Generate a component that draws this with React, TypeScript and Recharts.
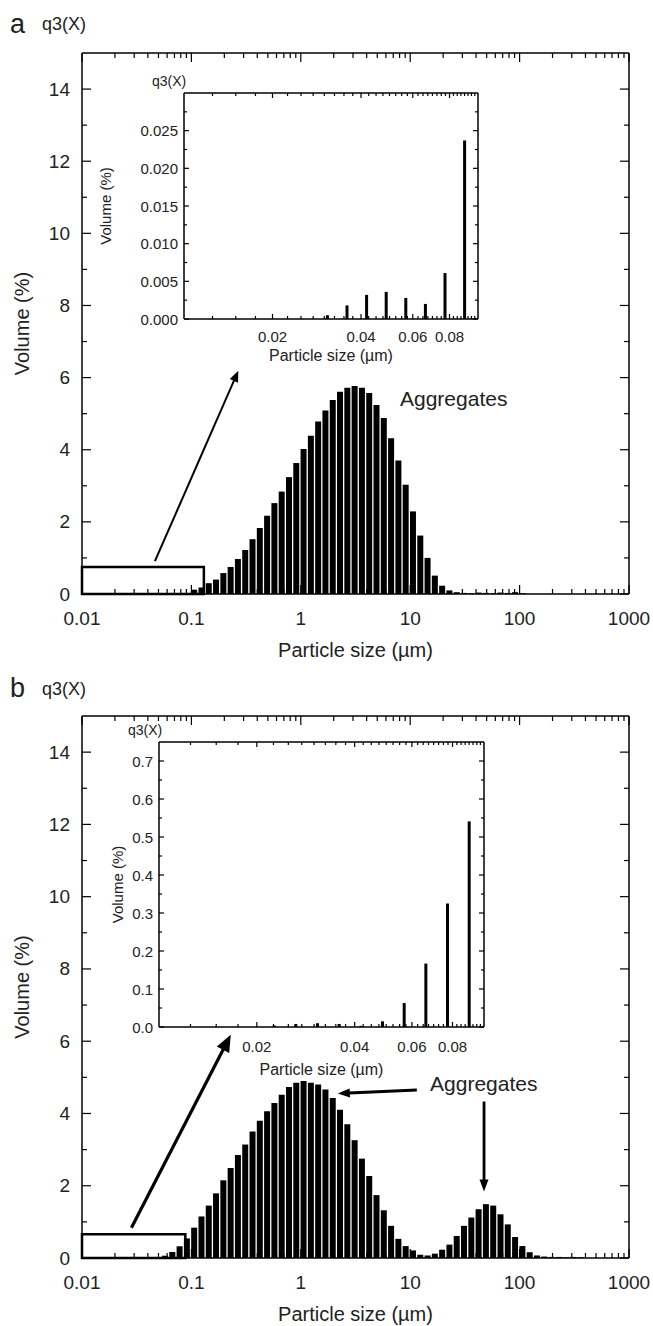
import React from 'react'
import { ComposedChart, Bar, XAxis, YAxis, ReferenceArea, ReferenceLine, ReferenceDot } from 'recharts'

const FONT = '"Liberation Sans", Arial, Helvetica, sans-serif'
const INK = '#222'

// size classes (um), about 15 per decade
const sizeClasses = [
  0.01052, 0.01227, 0.0143, 0.01667, 0.01944, 0.02266, 0.02642, 0.03081, 0.03592, 0.04188, 0.04883, 0.05693, 0.06638, 0.07739, 0.09023,
  0.1052, 0.1227, 0.143, 0.1667, 0.1944, 0.2266, 0.2642, 0.3081, 0.3592, 0.4188, 0.4883, 0.5693, 0.6638, 0.7739, 0.9023,
  1.052, 1.227, 1.43, 1.667, 1.944, 2.266, 2.642, 3.081, 3.592, 4.188, 4.883, 5.693, 6.638, 7.739, 9.023,
  10.52, 12.27, 14.3, 16.67, 19.44, 22.66, 26.42, 30.81, 35.92, 41.88, 48.83, 56.93, 66.38, 77.39, 90.23,
  105.2, 122.7, 143, 166.7, 194.4, 226.6, 264.2, 308.1, 359.2, 418.8, 488.3, 569.3, 663.8, 773.9, 902.3,
]

// panel a, volume (%)
const volumeA = [
  0, 0, 0, 0, 0, 0, 0, 0.0005, 0.0018, 0.0032, 0.0036, 0.0028, 0.002, 0.0061, 0.0237,
  0.12, 0.18, 0.3, 0.4, 0.58, 0.75, 0.97, 1.22, 1.52, 1.83, 2.17, 2.52, 2.84, 3.24, 3.63,
  4.02, 4.39, 4.78, 5.09, 5.38, 5.61, 5.72, 5.77, 5.72, 5.57, 5.24, 4.88, 4.32, 3.7, 3.03,
  2.29, 1.62, 1.0, 0.51, 0.23, 0.1, 0.05, 0.03, 0.02, 0.04, 0.03, 0.02, 0.04, 0.03, 0.05,
  0.02, 0, 0, 0, 0, 0, 0, 0, 0, 0, 0, 0, 0, 0, 0,
]

// panel b, volume (%)
const volumeB = [
  0, 0, 0, 0, 0, 0.004, 0.008, 0.01, 0.008, 0.003, 0.015, 0.063, 0.167, 0.325, 0.541,
  0.84, 1.15, 1.45, 1.79, 2.15, 2.49, 2.85, 3.14, 3.5, 3.8, 4.06, 4.29, 4.52, 4.73, 4.85,
  4.9, 4.85, 4.8, 4.66, 4.43, 4.1, 3.7, 3.26, 2.75, 2.27, 1.74, 1.32, 0.89, 0.53, 0.33,
  0.21, 0.09, 0.07, 0.12, 0.23, 0.37, 0.61, 0.89, 1.12, 1.35, 1.49, 1.45, 1.21, 0.93, 0.58,
  0.33, 0.16, 0.07, 0.04, 0.03, 0.03, 0.02, 0.03, 0.02, 0, 0, 0, 0, 0, 0,
]

// insets show the sub-0.1 um classes
const insetSizes = sizeClasses.slice(0, 15)
const insetVolumeA = volumeA.slice(0, 15)
const insetVolumeB = volumeB.slice(0, 15)

const mainXMajors = [0.01, 0.1, 1, 10, 100, 1000]
const mainXMinors = mainXMajors.slice(0, -1).flatMap((d) => [2, 3, 4, 5, 6, 7, 8, 9].map((k) => +(d * k).toPrecision(3)))
const mainYMajors = [0, 2, 4, 6, 8, 10, 12, 14]
const mainYMinors = [1, 3, 5, 7, 9, 11, 13]

const insetXMajors = [0.02, 0.04, 0.06, 0.08]
const insetXMinors = Array.from({ length: 35 }, (_, i) => +(0.0125 + i * 0.0025).toFixed(4)).filter(
  (v) => !insetXMajors.some((m) => Math.abs(m - v) < 1e-9),
)
const insetAYMajors = [0, 0.005, 0.01, 0.015, 0.02, 0.025]
const insetAYMinors = [0.0025, 0.0075, 0.0125, 0.0175, 0.0225, 0.0275]
const insetBYMajors = [0, 0.1, 0.2, 0.3, 0.4, 0.5, 0.6, 0.7]
const insetBYMinors = [0.05, 0.15, 0.25, 0.35, 0.45, 0.55, 0.65]

type Side = 'left' | 'right' | 'top' | 'bottom'
type TickLabel = { fmt: (v: number) => string; gap: number; size: number }

function makeTick(side: Side, majors: number[], long: number, short: number, label?: TickLabel) {
  return (p: any) => {
    const v = Number(p.payload.value)
    const big = majors.some((m) => Math.abs(m - v) < 1e-9)
    const len = big ? long : short
    const x = Number(p.x)
    const y = Number(p.y)
    let x2 = x
    let y2 = y
    if (side === 'left') x2 = x + len
    if (side === 'right') x2 = x - len
    if (side === 'top') y2 = y + len
    if (side === 'bottom') y2 = y - len
    const txt = { fontSize: label?.size, fill: INK, fontFamily: FONT, dominantBaseline: 'central' as const }
    return (
      <g>
        <line x1={x} y1={y} x2={x2} y2={y2} stroke="#000" strokeWidth={1.2} />
        {big && label && side === 'left' && (
          <text x={x - label.gap} y={y} textAnchor="end" {...txt}>
            {label.fmt(v)}
          </text>
        )}
        {big && label && side === 'bottom' && (
          <text x={x} y={y + label.gap} textAnchor="middle" {...txt}>
            {label.fmt(v)}
          </text>
        )}
      </g>
    )
  }
}

const yTitle = (text: string, dx: number, size: number) => (p: any) => {
  const vb = p.viewBox
  const cx = vb.x + vb.width - dx
  const cy = vb.y + vb.height / 2
  return (
    <text x={cx} y={cy} transform={`rotate(-90 ${cx} ${cy})`} textAnchor="middle" dominantBaseline="central" fontSize={size} fill={INK} fontFamily={FONT}>
      {text}
    </text>
  )
}

const xTitle = (text: string, dy: number, size: number) => (p: any) => {
  const vb = p.viewBox
  return (
    <text x={vb.x + vb.width / 2} y={vb.y + dy} textAnchor="middle" dominantBaseline="central" fontSize={size} fill={INK} fontFamily={FONT}>
      {text}
    </text>
  )
}

const arrowShape = (w: number, head: number, half: number) => (p: any) => {
  const { x1, y1, x2, y2 } = p
  const dx = x2 - x1
  const dy = y2 - y1
  const L = Math.hypot(dx, dy) || 1
  const ux = dx / L
  const uy = dy / L
  const bx = x2 - ux * head
  const by = y2 - uy * head
  const pts = `${x2},${y2} ${bx - uy * half},${by + ux * half} ${bx + uy * half},${by - ux * half}`
  return (
    <g>
      <line x1={x1} y1={y1} x2={bx + ux * 1} y2={by + uy * 1} stroke="#000" strokeWidth={w} />
      <polygon points={pts} fill="#000" />
    </g>
  )
}

type Arrow = { from: [number, number]; to: [number, number]; w: number; head: number; half: number }

const frame = { stroke: '#000', strokeWidth: 1.5 }

type MainProps = {
  top: number
  height: number
  plotTop: number
  plotBottom: number
  volumes: number[]
  box: [number, number, number]
  arrows: Arrow[]
  aggregates: [number, number]
}

function MainPanel({ top, height, plotTop, plotBottom, volumes, box, arrows, aggregates }: MainProps) {
  const data = sizeClasses.map((size, i) => ({ size, v: volumes[i] }))
  const xTicks = [...mainXMajors, ...mainXMinors]
  const yTicks = [...mainYMajors, ...mainYMinors]
  const xCommon = {
    dataKey: 'size',
    type: 'number' as const,
    scale: 'log' as const,
    domain: [0.01, 1000],
    allowDataOverflow: true,
    ticks: xTicks,
    interval: 0,
    tickSize: 0,
    tickMargin: 0,
    height: 1,
    axisLine: frame,
  }
  const yCommon = {
    type: 'number' as const,
    domain: [0, 15],
    allowDataOverflow: true,
    ticks: yTicks,
    interval: 0,
    tickSize: 0,
    tickMargin: 0,
    width: 1,
    axisLine: frame,
  }
  return (
    <div style={{ position: 'absolute', left: 0, top, width: 653, height }}>
      <ComposedChart
        width={653}
        height={height}
        data={data}
        margin={{ top: plotTop - 1, right: 23, bottom: height - plotBottom - 1, left: 81 }}
      >
        <XAxis
          xAxisId="b"
          {...xCommon}
          tick={makeTick('bottom', mainXMajors, 9, 5, { fmt: (v) => String(v), gap: 24, size: 19 })}
          label={xTitle('Particle size (\u00b5m)', 56, 20)}
        />
        <XAxis xAxisId="t" orientation="top" {...xCommon} tick={makeTick('top', mainXMajors, 9, 5)} />
        <YAxis
          yAxisId="l"
          {...yCommon}
          tick={makeTick('left', mainYMajors, 9, 5, { fmt: (v) => String(v), gap: 12, size: 19 })}
          label={yTitle('Volume (%)', 60, 20)}
        />
        <YAxis yAxisId="r" orientation="right" {...yCommon} tick={makeTick('right', mainYMajors, 9, 5)} />
        <Bar xAxisId="b" yAxisId="l" dataKey="v" fill="#000" barSize={6} isAnimationActive={false} />
        <ReferenceArea
          xAxisId="b"
          yAxisId="l"
          x1={box[0]}
          x2={box[1]}
          y1={0}
          y2={box[2]}
          fill="none"
          fillOpacity={0}
          stroke="#000"
          strokeWidth={2.5}
          ifOverflow="visible"
        />
        {arrows.map((a, i) => (
          <ReferenceLine
            key={i}
            xAxisId="b"
            yAxisId="l"
            segment={[
              { x: a.from[0], y: a.from[1] },
              { x: a.to[0], y: a.to[1] },
            ]}
            ifOverflow="visible"
            shape={arrowShape(a.w, a.head, a.half)}
          />
        ))}
        <ReferenceDot
          xAxisId="b"
          yAxisId="l"
          x={aggregates[0]}
          y={aggregates[1]}
          r={0}
          fill="none"
          stroke="none"
          ifOverflow="visible"
          label={{ value: 'Aggregates', position: 'right', offset: 0, fontSize: 21, fill: INK, fontFamily: FONT }}
        />
      </ComposedChart>
    </div>
  )
}

type InsetProps = {
  left: number
  top: number
  width: number
  height: number
  plot: { l: number; r: number; t: number; b: number }
  volumes: number[]
  yMax: number
  yMajors: number[]
  yMinors: number[]
  yDigits: number
  xLabelGap: number
  xTitleGap: number
  yTitleDx: number
}

function InsetPanel({ left, top, width, height, plot, volumes, yMax, yMajors, yMinors, yDigits, xLabelGap, xTitleGap, yTitleDx }: InsetProps) {
  const data = insetSizes.map((size, i) => ({ size, v: volumes[i] }))
  const xTicks = [...insetXMajors, ...insetXMinors]
  const yTicks = [...yMajors, ...yMinors]
  const xCommon = {
    dataKey: 'size',
    type: 'number' as const,
    scale: 'log' as const,
    domain: [0.01, 0.1],
    allowDataOverflow: true,
    ticks: xTicks,
    interval: 0,
    tickSize: 0,
    tickMargin: 0,
    height: 1,
    axisLine: frame,
  }
  const yCommon = {
    type: 'number' as const,
    domain: [0, yMax],
    allowDataOverflow: true,
    ticks: yTicks,
    interval: 0,
    tickSize: 0,
    tickMargin: 0,
    width: 1,
    axisLine: frame,
  }
  const pl = plot.l - left
  const pr = plot.r - left
  const pt = plot.t - top
  const pb = plot.b - top
  return (
    <div style={{ position: 'absolute', left, top, width, height }}>
      <ComposedChart
        width={width}
        height={height}
        data={data}
        margin={{ top: pt - 1, right: width - pr - 1, bottom: height - pb - 1, left: pl - 1 }}
      >
        <XAxis
          xAxisId="b"
          {...xCommon}
          tick={makeTick('bottom', insetXMajors, 5, 3, { fmt: (v) => String(v), gap: xLabelGap, size: 15 })}
          label={xTitle('Particle size (\u00b5m)', xTitleGap, 16)}
        />
        <XAxis xAxisId="t" orientation="top" {...xCommon} tick={makeTick('top', insetXMajors, 5, 3)} />
        <YAxis
          yAxisId="l"
          {...yCommon}
          tick={makeTick('left', yMajors, 5, 3, { fmt: (v) => v.toFixed(yDigits), gap: 6, size: 15 })}
          label={yTitle('Volume (%)', yTitleDx, 15)}
        />
        <YAxis yAxisId="r" orientation="right" {...yCommon} tick={makeTick('right', yMajors, 5, 3)} />
        <Bar xAxisId="b" yAxisId="l" dataKey="v" fill="#000" barSize={3} isAnimationActive={false} />
      </ComposedChart>
    </div>
  )
}

const textStyle = (left: number, top: number, size: number): React.CSSProperties => ({
  position: 'absolute',
  left,
  top: top - size * 0.6,
  fontSize: size,
  lineHeight: `${size * 1.2}px`,
  fontFamily: FONT,
  color: INK,
  whiteSpace: 'nowrap',
})

export default function App() {
  return (
    <div style={{ position: 'absolute', left: 0, top: 0, width: 653, height: 1326, background: '#fff' }}>
      <MainPanel
        top={0}
        height={680}
        plotTop={53}
        plotBottom={594}
        volumes={volumeA}
        box={[0.01, 0.13, 0.75]}
        arrows={[{ from: [0.0464, 0.91], to: [0.2685, 6.19], w: 2, head: 11, half: 4.5 }]}
        aggregates={[8.07, 5.43]}
      />
      <MainPanel
        top={660}
        height={666}
        plotTop={56}
        plotBottom={598}
        volumes={volumeB}
        box={[0.01, 0.088, 0.66]}
        arrows={[
          { from: [0.0283, 0.84], to: [0.229, 6.18], w: 3.2, head: 17, half: 7 },
          { from: [11.5, 4.65], to: [2.18, 4.55], w: 3, head: 12, half: 4.5 },
          { from: [47.3, 4.33], to: [47.3, 1.84], w: 2.8, head: 12, half: 4.5 },
        ]}
        aggregates={[15.2, 4.82]}
      />
      <InsetPanel
        left={90}
        top={60}
        width={400}
        height={320}
        plot={{ l: 184, r: 478, t: 93, b: 319 }}
        volumes={insetVolumeA}
        yMax={0.03}
        yMajors={insetAYMajors}
        yMinors={insetAYMinors}
        yDigits={3}
        xLabelGap={17}
        xTitleGap={36}
        yTitleDx={79}
      />
      <InsetPanel
        left={80}
        top={700}
        width={420}
        height={400}
        plot={{ l: 159, r: 484, t: 742, b: 1027 }}
        volumes={insetVolumeB}
        yMax={0.75}
        yMajors={insetBYMajors}
        yMinors={insetBYMinors}
        yDigits={1}
        xLabelGap={19}
        xTitleGap={42}
        yTitleDx={42}
      />
      <div style={textStyle(10, 24, 27)}>a</div>
      <div style={textStyle(42, 25, 18)}>q3(X)</div>
      <div style={textStyle(152, 81, 14)}>q3(X)</div>
      <div style={textStyle(10, 688, 27)}>b</div>
      <div style={textStyle(42, 690, 18)}>q3(X)</div>
      <div style={textStyle(128, 730, 14)}>q3(X)</div>
    </div>
  )
}
